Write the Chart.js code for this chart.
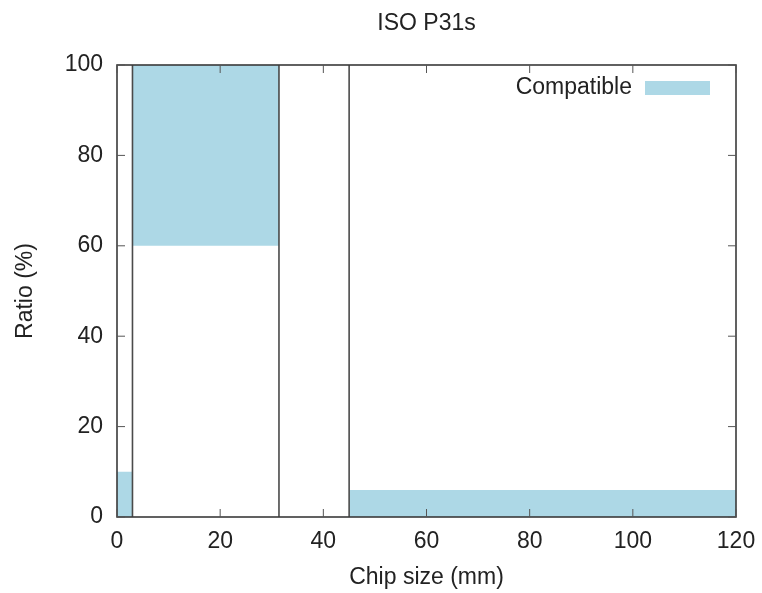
<!DOCTYPE html>
<html>
<head>
<meta charset="utf-8">
<script src="https://cdn.jsdelivr.net/npm/chart.js@4/dist/chart.umd.min.js"></script>
<style>
  html, body { margin: 0; padding: 0; background: #fff; }
  #wrap { width: 762px; height: 593px; }
</style>
</head>
<body>
<div id="wrap"><canvas id="chart" width="762" height="593"></canvas></div>
<script>
// ---- data ----
const chartTitle = 'ISO P31s';
const seriesName = 'Compatible';
const xLabel = 'Chip size (mm)';
const yLabel = 'Ratio (%)';

// compatible regions: x from..to, ratio low..high
const regionStart = [0, 3, 45];
const regionEnd = [3, 31.4, 120];
const regionLow = [0, 60, 0];
const regionHigh = [10, 100, 6];

// vertical boundary lines
const boundaries = [3, 31.4, 45];

const xRange = [0, 120];
const yRange = [0, 100];

const FILL = '#add8e6';
const INK = '#222';
const FONT = '"Liberation Sans", Arial, Helvetica, sans-serif';
const FS = 23;

const datasets = [];
regionStart.forEach((x0, i) => {
  datasets.push({
    label: i === 0 ? seriesName : '',
    data: [{ x: x0, y: regionHigh[i] }, { x: regionEnd[i], y: regionHigh[i] }],
    fill: { value: regionLow[i] },
    backgroundColor: FILL,
    borderWidth: 0,
    pointRadius: 0,
    order: 2
  });
});
boundaries.forEach(b => {
  datasets.push({
    label: '',
    data: [{ x: b, y: yRange[0] }, { x: b, y: yRange[1] }],
    fill: false,
    borderColor: '#4a4a4a',
    borderWidth: 1.6,
    pointRadius: 0,
    order: 1
  });
});

// frame, inward ticks, title and key in gnuplot style
const gnuplotFrame = {
  id: 'gnuplotFrame',
  afterDatasetsDraw(chart) {
    const { ctx, chartArea: a, scales } = chart;
    ctx.save();
    ctx.strokeStyle = '#3a3a3a';
    ctx.lineWidth = 1.6;
    ctx.strokeRect(a.left, a.top, a.right - a.left, a.bottom - a.top);

    ctx.lineWidth = 1;
    ctx.strokeStyle = '#555';
    const len = 8;
    scales.x.ticks.forEach(t => {
      const px = scales.x.getPixelForValue(t.value);
      ctx.beginPath();
      ctx.moveTo(px, a.bottom); ctx.lineTo(px, a.bottom - len);
      ctx.moveTo(px, a.top); ctx.lineTo(px, a.top + len);
      ctx.stroke();
    });
    scales.y.ticks.forEach(t => {
      const py = scales.y.getPixelForValue(t.value);
      ctx.beginPath();
      ctx.moveTo(a.left, py); ctx.lineTo(a.left + len, py);
      ctx.moveTo(a.right, py); ctx.lineTo(a.right - len, py);
      ctx.stroke();
    });

    // title
    ctx.fillStyle = INK;
    ctx.font = FS + 'px ' + FONT;
    ctx.textAlign = 'center';
    ctx.textBaseline = 'middle';
    ctx.fillText(chartTitle, (a.left + a.right) / 2, 24);

    // key
    ctx.textAlign = 'right';
    ctx.fillText(seriesName, a.right - 104, a.top + 23);
    ctx.fillStyle = FILL;
    ctx.fillRect(a.right - 91, a.top + 16, 65, 14);
    ctx.restore();
  }
};

new Chart(document.getElementById('chart'), {
  type: 'line',
  data: { datasets },
  options: {
    responsive: false,
    animation: false,
    layout: { padding: { top: 65, right: 26, left: 0, bottom: 0 } },
    plugins: {
      legend: { display: false },
      tooltip: { enabled: false },
      title: { display: false }
    },
    scales: {
      x: {
        type: 'linear',
        min: xRange[0],
        max: xRange[1],
        grid: { display: false, drawTicks: false },
        border: { display: false },
        ticks: { stepSize: 20, padding: 11, color: INK, font: { family: FONT, size: FS } },
        title: { display: true, text: xLabel, color: INK, font: { family: FONT, size: FS }, padding: { top: 2, bottom: 2 } },
        afterFit(scale) {
          scale.height = 76;
          scale.paddingLeft = 0;
          scale.paddingRight = 0;
        }
      },
      y: {
        min: yRange[0],
        max: yRange[1],
        grid: { display: false, drawTicks: false },
        border: { display: false },
        ticks: { stepSize: 20, padding: 14, color: INK, font: { family: FONT, size: FS } },
        title: { display: true, text: yLabel, color: INK, font: { family: FONT, size: FS }, padding: { top: 12, bottom: 2 } },
        afterFit(scale) {
          scale.width = 117;
          scale.paddingTop = 0;
          scale.paddingBottom = 0;
        }
      }
    }
  },
  plugins: [gnuplotFrame]
});
</script>
</body>
</html>
